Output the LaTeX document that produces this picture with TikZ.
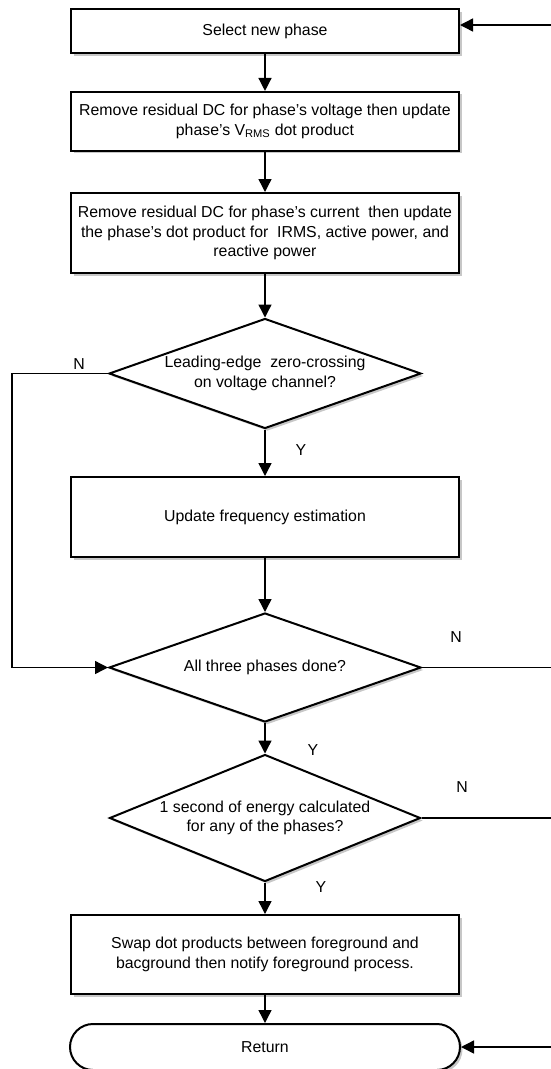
\documentclass[tikz,border=0pt]{standalone}
\usepackage{fontspec}
\setmainfont{Liberation Sans}
\usetikzlibrary{shapes.geometric,shapes.misc,arrows.meta,shadows}
\begin{document}
\begin{tikzpicture}
% Per-phase processing flow, laid out in pixel units
\def\pxsz{1pt}
\providecommand{\flowBorderWidth}{2pt}
\providecommand{\flowLineWidth}{1.4pt}
\providecommand{\flowShadowColor}{black!22}
\tikzset{
  flowshadow/.style={drop shadow={shadow xshift=2.5pt, shadow yshift=-2.5pt, fill=\flowShadowColor, opacity=1}},
  procbox/.style={draw, line width=\flowBorderWidth, fill=white, flowshadow, minimum width=388pt, inner sep=0pt, align=center},
  decision/.style={diamond, draw, line width=\flowBorderWidth, fill=white, flowshadow, minimum width=312pt, inner sep=0pt, align=center},
  endbox/.style={rounded rectangle, draw, line width=\flowBorderWidth, fill=white, flowshadow, minimum width=390pt, minimum height=46pt, inner sep=0pt},
  flowline/.style={line width=\flowLineWidth},
  flowarrow/.style={flowline, -{Triangle[length=13pt,width=13pt]}},
  branchlabel/.style={inner sep=0pt}
}
\begin{scope}[x=\pxsz, y=-\pxsz, font=\fontsize{15.85pt}{19.5pt}\selectfont]
  \useasboundingbox (0,0) rectangle (551,1069);
  % Rails at the left and right edges
  \coordinate (leftrail) at (12,0);
  \coordinate (rightedge) at (551,0);
  \coordinate (loopin) at (551,25);
  % Steps
  \node[procbox, minimum height=44pt] (select) at (265,31) {Select new phase};
  \node[procbox, minimum height=58.7pt] (vdot) at (265,121.3) {Remove residual DC for phase’s voltage then update\\phase’s V\textsubscript{RMS} dot product};
  \node[procbox, minimum height=80pt] (idot) at (265,233) {Remove residual DC for phase’s current\ \ then update\\the phase’s dot product for\ \ IRMS, active power, and\\reactive power};
  \node[decision, shape aspect=2.84, minimum height=110pt] (zcross) at (265,373.5) {Leading-edge\ \ zero-crossing\\on voltage channel?};
  \node[procbox, minimum height=80pt] (freq) at (265,517) {Update frequency estimation};
  \node[decision, shape aspect=2.84, minimum height=109pt] (alldone) at (265,667.5) {All three phases done?};
  \node[decision, shape aspect=2.45, minimum width=311pt, minimum height=127pt] (energy) at (265,818) {1 second of energy calculated\\for any of the phases?};
  \node[procbox, minimum height=79pt] (swap) at (265,954.5) {Swap dot products between foreground and\\bacground then notify foreground process.};
  \node[endbox] (ret) at (265,1047) {Return};
  % Branch labels
  \node[branchlabel] (zcrossno) at (79,364) {N};
  \node[branchlabel] (zcrossyes) at (301,450) {Y};
  \node[branchlabel] (alldoneno) at (456,637) {N};
  \node[branchlabel] (alldoneyes) at (313,750) {Y};
  \node[branchlabel] (energyno) at (462,787) {N};
  \node[branchlabel] (energyyes) at (321,887) {Y};
  % Main line
  \draw[flowarrow] (select.south) -- (vdot.north);
  \draw[flowarrow] (vdot.south) -- (idot.north);
  \draw[flowarrow] (idot.south) -- (zcross.north);
  \draw[flowarrow] (zcross.south) -- (freq.north);
  \draw[flowarrow] (freq.south) -- (alldone.north);
  \draw[flowarrow] (alldone.south) -- (energy.north);
  \draw[flowarrow] (energy.south) -- (swap.north);
  \draw[flowarrow] (swap.south) -- (ret.north);
  % Branches
  \draw[flowarrow] (zcross.west) -- (zcross.west -| leftrail) |- (alldone.west);
  \draw[flowline] (alldone.east) -- (alldone.east -| rightedge);
  \draw[flowline] (energy.east) -- (energy.east -| rightedge);
  \draw[flowarrow] (loopin) -- (loopin -| select.east);
  \draw[flowarrow] (ret.east -| rightedge) -- (ret.east);
\end{scope}
\end{tikzpicture}
\end{document}
